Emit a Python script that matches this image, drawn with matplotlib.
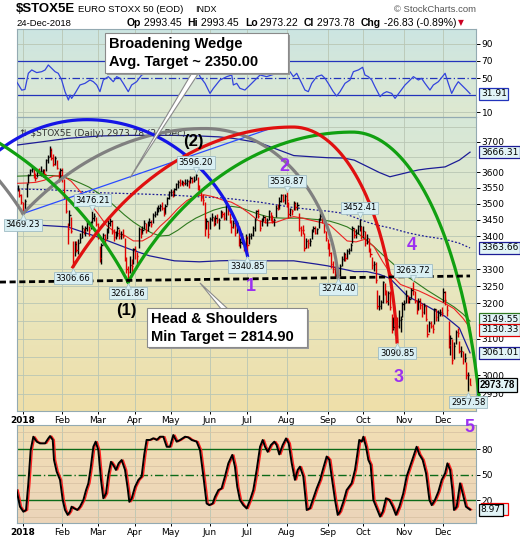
import numpy as np
import pandas as pd
import matplotlib
matplotlib.use("Agg")
import matplotlib.pyplot as plt
from matplotlib.colors import to_rgb
from matplotlib.patches import Rectangle, Polygon
from matplotlib.ticker import FixedLocator, NullLocator
from matplotlib.transforms import offset_copy

# trading days on the chart: 3 days of late 2017, then 2018 up to 24 Dec
holidays = pd.to_datetime(["2018-01-01", "2018-03-30", "2018-04-02", "2018-05-01"])
days = pd.bdate_range("2017-12-27", "2018-12-24")
days = days[~days.isin(holidays)]

# daily bars (Dec17, Jan .. Dec)
closes = [3548, 3529, 3504,
    3478, 3510, 3563, 3593, 3607, 3612, 3590, 3582, 3607, 3601, 3604, 3608, 3596, 3641, 3651, 3672, 3647, 3627, 3647, 3614, 3577, 3609,
    3586, 3523, 3478, 3420, 3466, 3416, 3325, 3375, 3359, 3378, 3393, 3426, 3414, 3426, 3437, 3418, 3438, 3454, 3462, 3438,
    3397, 3334, 3374, 3404, 3392, 3414, 3441, 3446, 3412, 3396, 3400, 3425, 3399, 3405, 3399, 3331, 3300, 3292, 3313, 3311, 3361,
    3359, 3340, 3423, 3408, 3419, 3441, 3419, 3440, 3443, 3437, 3464, 3469, 3485, 3486, 3494, 3487, 3470, 3494, 3518, 3536,
    3537, 3533, 3546, 3563, 3568, 3565, 3568, 3566, 3567, 3573, 3565, 3583, 3573, 3576, 3593, 3555, 3539, 3519, 3511, 3422, 3447, 3406,
    3453, 3458, 3443, 3455, 3448, 3448, 3473, 3467, 3456, 3495, 3476, 3454, 3429, 3441, 3410, 3440, 3376, 3381, 3389, 3362, 3395,
    3374, 3401, 3404, 3425, 3450, 3476, 3463, 3425, 3451, 3460, 3448, 3449, 3477, 3453, 3447, 3450, 3488, 3487, 3510, 3527, 3512, 3525,
    3512, 3468, 3483, 3477, 3503, 3490, 3497, 3426, 3419, 3418, 3363, 3384, 3379, 3386, 3418, 3426, 3410, 3420, 3450, 3462, 3450, 3416, 3393,
    3370, 3347, 3316, 3300, 3290, 3295, 3284, 3311, 3331, 3345, 3332, 3353, 3358, 3372, 3424, 3402, 3409, 3430, 3432, 3399,
    3414, 3380, 3393, 3357, 3345, 3313, 3316, 3267, 3194, 3194, 3203, 3262, 3229, 3208, 3229, 3189, 3130, 3134, 3160, 3137, 3154, 3156, 3197,
    3201, 3223, 3210, 3212, 3240, 3237, 3208, 3180, 3207, 3196, 3175, 3193, 3155, 3112, 3145, 3136, 3128, 3183, 3160, 3175, 3176, 3173,
    3232, 3210, 3180, 3082, 3102, 3040, 3081, 3118, 3116, 3066, 3066, 3045, 3047, 3001, 3001, 2973.78]
highs = [3558, 3548, 3530,
    3506, 3515, 3566, 3596, 3612, 3620, 3610, 3598, 3612, 3613, 3620, 3612, 3612, 3645, 3656, 3687, 3680, 3660, 3652, 3640, 3605, 3615,
    3615, 3580, 3520, 3440, 3480, 3460, 3385, 3385, 3385, 3390, 3410, 3435, 3425, 3430, 3445, 3430, 3445, 3476.21, 3472, 3460,
    3440, 3370, 3380, 3410, 3405, 3425, 3448, 3455, 3450, 3420, 3415, 3432, 3420, 3415, 3420, 3395, 3335, 3310, 3340, 3330, 3365,
    3370, 3350, 3428, 3425, 3430, 3448, 3440, 3445, 3455, 3450, 3470, 3478, 3490, 3495, 3500, 3505, 3490, 3500, 3522, 3540,
    3548, 3545, 3550, 3567, 3575, 3578, 3575, 3572, 3578, 3580, 3575, 3588, 3585, 3590, 3596.20, 3585, 3560, 3545, 3530, 3505, 3455, 3445,
    3460, 3470, 3460, 3465, 3468, 3455, 3480, 3478, 3475, 3500, 3495, 3470, 3450, 3450, 3445, 3445, 3430, 3395, 3410, 3385, 3405,
    3400, 3410, 3410, 3430, 3455, 3480, 3485, 3450, 3455, 3465, 3462, 3455, 3480, 3475, 3465, 3455, 3495, 3500, 3520, 3530, 3530, 3532,
    3536.87, 3505, 3488, 3485, 3508, 3505, 3505, 3470, 3430, 3435, 3410, 3395, 3390, 3395, 3422, 3432, 3430, 3425, 3455, 3470, 3468, 3450, 3415,
    3390, 3380, 3350, 3325, 3310, 3310, 3300, 3315, 3340, 3350, 3348, 3360, 3365, 3380, 3430, 3425, 3420, 3435, 3452.41, 3430,
    3430, 3415, 3405, 3395, 3365, 3335, 3325, 3320, 3240, 3225, 3210, 3265, 3260, 3240, 3235, 3235, 3170, 3160, 3168, 3160, 3180, 3165, 3205,
    3210, 3240, 3225, 3220, 3245, 3263.72, 3235, 3210, 3215, 3215, 3200, 3200, 3195, 3140, 3150, 3150, 3140, 3188, 3185, 3180, 3185, 3190,
    3245, 3235, 3195, 3150, 3110, 3100, 3090, 3125, 3130, 3095, 3080, 3065, 3060, 3035, 3010, 2993.45]
lows = [3540, 3522, 3500,
    3469.23, 3477, 3520, 3566, 3592, 3603, 3582, 3572, 3585, 3595, 3590, 3585, 3590, 3605, 3630, 3650, 3640, 3620, 3625, 3610, 3570, 3580,
    3570, 3515, 3470, 3375, 3430, 3410, 3306.66, 3340, 3350, 3345, 3380, 3395, 3405, 3400, 3415, 3400, 3420, 3440, 3445, 3430,
    3390, 3320, 3315, 3375, 3370, 3390, 3410, 3430, 3405, 3385, 3390, 3400, 3390, 3390, 3395, 3325, 3290, 3261.86, 3290, 3290, 3315,
    3330, 3315, 3365, 3395, 3405, 3420, 3410, 3415, 3430, 3428, 3440, 3458, 3465, 3475, 3478, 3480, 3462, 3468, 3495, 3515,
    3525, 3520, 3525, 3545, 3550, 3555, 3558, 3555, 3560, 3555, 3550, 3565, 3565, 3570, 3575, 3545, 3530, 3510, 3495, 3400, 3420, 3395,
    3420, 3445, 3430, 3435, 3440, 3420, 3455, 3460, 3450, 3450, 3465, 3440, 3410, 3425, 3400, 3410, 3370, 3365, 3375, 3355, 3365,
    3340.85, 3375, 3390, 3400, 3415, 3455, 3455, 3415, 3430, 3445, 3440, 3430, 3450, 3445, 3440, 3430, 3460, 3480, 3485, 3505, 3505, 3500,
    3490, 3455, 3462, 3465, 3480, 3482, 3480, 3415, 3400, 3405, 3355, 3365, 3365, 3370, 3390, 3412, 3405, 3405, 3425, 3450, 3440, 3410, 3385,
    3360, 3340, 3305, 3290, 3278, 3280, 3274.40, 3280, 3310, 3325, 3325, 3330, 3345, 3355, 3380, 3395, 3395, 3405, 3415, 3390,
    3395, 3370, 3375, 3350, 3335, 3300, 3295, 3260, 3185, 3180, 3185, 3200, 3225, 3200, 3195, 3180, 3115, 3125, 3110, 3090.85, 3130, 3120, 3160,
    3180, 3200, 3200, 3200, 3215, 3225, 3200, 3170, 3180, 3185, 3160, 3170, 3150, 3105, 3120, 3130, 3115, 3140, 3150, 3150, 3165, 3165,
    3205, 3195, 3165, 3075, 3055, 3030, 3045, 3085, 3105, 3060, 3050, 3030, 3035, 2990, 2957.58, 2973.22]

# labelled pivots (trading-day index from 2 Jan 2018)
piv_x = [0, 28, 39, 59, 97, 126, 148, 177, 189, 210, 219, 250]
piv_kind = ["low", "low", "high", "low", "high", "low", "high", "low", "high", "low", "high", "low"]

# moving averages, sampled every 5 trading days
ma_x = [-3, 2, 7, 12, 17, 22, 27, 32, 37, 42, 47, 52, 57, 62, 67, 72, 77, 82, 87, 92, 97, 102, 107, 112, 117, 122,
        127, 132, 137, 142, 147, 152, 157, 162, 167, 172, 177, 182, 187, 192, 197, 202, 207, 212, 217, 222, 227, 232,
        237, 242, 247, 251]
ma_fast = [3565, 3566, 3568, 3575, 3588, 3590, 3572, 3540, 3505, 3470, 3432, 3410, 3402, 3385, 3385, 3400, 3430, 3455,
           3485, 3510, 3525, 3528, 3522, 3512, 3505, 3490, 3470, 3448, 3440, 3442, 3452, 3460, 3455, 3448, 3442, 3435,
           3410, 3385, 3382, 3390, 3368, 3322, 3282, 3255, 3245, 3237, 3225, 3212, 3200, 3185, 3158, 3130.33]
ma_slow = [3588, 3589, 3590, 3590, 3590, 3586, 3578, 3566, 3553, 3535, 3515, 3490, 3465, 3443, 3425, 3410, 3400, 3402,
           3418, 3438, 3455, 3468, 3480, 3488, 3492, 3488, 3478, 3468, 3460, 3456, 3455, 3455, 3455, 3452, 3450, 3446,
           3438, 3428, 3412, 3392, 3368, 3343, 3320, 3296, 3274, 3256, 3238, 3222, 3206, 3190, 3170, 3149.55]

# 200-day bands
bb_x = [-3, 10, 25, 43, 60, 71, 85, 99, 110, 118, 133, 152, 165, 171, 180, 186, 193, 200, 206, 216, 222, 227, 237, 245, 251]
bb_up = [3690, 3700, 3712, 3720, 3722, 3722, 3722, 3720, 3717, 3712, 3697, 3655, 3650, 3648, 3647, 3640, 3620, 3600,
         3586, 3600, 3608, 3612, 3618, 3640, 3666.31]
bb_mid = [3547, 3545, 3542, 3535, 3532, 3530, 3527, 3522, 3519, 3515, 3505, 3488, 3480, 3477, 3470, 3458, 3443, 3432,
          3425, 3410, 3403, 3398, 3390, 3378, 3363.66]
bb_low = [3427, 3433, 3428, 3395, 3360, 3340, 3325, 3322, 3325, 3326, 3325, 3325, 3315, 3310, 3300, 3293, 3293, 3285,
          3273, 3220, 3205, 3192, 3163, 3130, 3061.01]

# RSI(14)
rsi_x = [-3.6, -0.7, 1.1, 3.0, 4.9, 7.7, 10.5, 12.4, 14.2, 16.1, 18.0, 19.8, 21.7, 23.6, 25.5, 26.4, 27.3, 29.2, 32.0,
         34.8, 37.6, 39.5, 41.4, 43.2, 45.1, 47.9, 50.7, 52.6, 54.5, 56.3, 59.1, 61.0, 63.8, 66.6, 69.4, 73.2, 77.0,
         80.7, 84.4, 88.2, 91.9, 95.6, 97.5, 99.4, 102.2, 105.0, 106.9, 110.6, 114.4, 117.2, 118.1, 120.0, 121.8,
         124.6, 127.5, 130.3, 133.1, 136.8, 139.6, 142.4, 146.2, 149.9, 151.8, 153.7, 156.5, 158.3, 160.2, 162.1,
         164.9, 167.7, 169.6, 171.4, 174.2, 176.1, 178.0, 180.8, 183.6, 185.5, 188.3, 190.7, 192.0, 193.9, 195.8,
         197.6, 200.5, 202.3, 204.2, 207.0, 208.9, 211.7, 214.5, 216.4, 219.2, 222.0, 223.8, 225.7, 228.5, 230.4,
         233.2, 237.0, 238.8, 240.7, 242.6, 244.4, 247.2, 249.1, 251.0]
rsi_v = [45.8, 36.0, 36.8, 55.6, 59.5, 56.4, 57.5, 59.5, 65.3, 61.4, 57.5, 55.6, 47.8, 34.2, 24.5, 30.3, 26.4, 32.2, 42.0,
         43.9, 47.8, 45.8, 42.0, 34.2, 47.8, 51.7, 45.8, 51.7, 49.7, 43.9, 34.2, 42.0, 45.8, 53.6, 55.6, 58.0, 61.0,
         60.0, 63.0, 62.0, 63.0, 64.0, 62.0, 51.7, 43.9, 32.2, 38.1, 47.8, 51.7, 53.6, 42.0, 43.9, 38.1,
         36.1, 42.0, 47.8, 53.6, 51.7, 53.6, 55.6, 57.5, 57.5, 51.7, 55.6, 43.9, 36.1, 34.2, 43.9,
         51.7, 53.6, 49.7, 43.9, 34.2, 29.1, 34.2, 43.9, 47.8, 57.5, 59.5, 62.6, 53.6, 51.7, 47.8,
         40.0, 28.4, 32.2, 34.2, 32.2, 26.4, 34.2, 42.0, 45.8, 51.7, 47.8, 49.7, 43.9, 36.1, 42.0,
         45.8, 55.6, 43.9, 32.2, 40.0, 45.8, 40.0, 36.1, 31.91]

# Full stochastic %K
sto_x = [-3.6, -1.7, 0.2, 1.7, 3.0, 4.3, 5.8, 7.7, 9.5, 12.4, 14.2, 15.2, 16.7, 17.4, 18.9, 20.8, 22.3, 23.6, 25.1,
         26.4, 27.3, 28.6, 30.5, 32.0, 33.9, 35.4, 36.7, 38.0, 39.5, 40.8, 42.3, 43.8, 45.1, 46.6, 47.9, 49.4, 50.7,
         52.2, 53.7, 55.4, 57.3, 58.8, 59.7, 61.0, 62.9, 64.8, 66.6, 68.1, 69.4, 71.3, 73.2, 75.1, 76.9, 78.8, 80.7,
         82.5, 84.4, 86.3, 88.2, 91.0, 92.8, 94.7, 97.5, 99.4, 101.3, 103.1, 104.6, 106.5, 107.8, 109.7, 111.5, 113.4,
         115.3, 117.5, 119.0, 120.3, 121.8, 123.7, 125.6, 127.5, 129.3, 131.2, 133.1, 134.6, 135.9, 137.4, 139.2,
         141.1, 142.4, 143.9, 145.8, 147.7, 149.2, 150.9, 152.7, 154.2, 155.5, 157.4, 159.3, 161.1, 163.0, 164.9,
         166.8, 168.6, 170.5, 172.0, 173.3, 175.2, 176.7, 178.0, 179.9, 181.7, 184.5, 186.4, 187.7, 188.8, 190.2,
         191.1, 192.6, 193.9, 195.2, 196.7, 198.6, 200.5, 202.0, 203.8, 205.7, 207.6, 209.4, 211.3, 213.5, 215.4,
         217.3, 219.2, 221.0, 222.5, 224.4, 226.3, 228.2, 229.5, 231.3, 233.2, 235.1, 237.0, 238.3, 239.8, 241.1,
         242.0, 243.5, 245.4, 246.9, 248.7, 251.0]
sto_v = [32, 12.5, 6.6, 8.6, 40, 79, 94.8, 89, 87, 87, 92.8, 95.6, 91, 67.6, 53.8, 44, 20.4, 8.6, 2.8,
         6.7, 12.5, 10.6, 8.6, 12.5, 20.4, 32, 40, 57.8, 83, 89, 79, 44, 22.4, 28, 49.6, 65.3, 61.4,
         55.7, 63.5, 67.4, 55.7, 33.9, 18.2, 22, 35.9, 44, 48, 74, 91, 91, 93, 91, 94.8, 94.8, 83,
         83, 96.8, 89, 91, 94.8, 94, 91, 89, 79, 48, 16.3, 14.3, 16.3, 24, 32, 34, 48,
         63.5, 73.4, 59.6, 36, 20.4, 14.3, 10.4, 20.4, 32, 55.7, 83, 91, 83, 77, 85,
         89, 85, 74, 85, 92.8, 87, 63.5, 44, 55.7, 59.6, 48, 8.6, 10.6, 22.4, 34,
         44, 57.8, 71.5, 67.6, 48, 20.4, 2.8, 6.7, 18.4, 32, 40, 55.7, 74, 91, 89,
         94.8, 83, 67.6, 61.7, 20.4, 10.6, 0.8, 6.7, 22.4, 20.4, 12.5, 2.8, 12.5, 28, 48,
         59.6, 71.5, 83, 74, 67.6, 51.8, 20.4, 14.3, 20.4, 30, 44, 51.8, 63.5, 55.7, 32,
         8.6, 12.5, 40, 28, 12.5, 8.97]

W, H = 520, 540
L, R = 17, 476
fig = plt.figure(figsize=(W / 100, H / 100), dpi=100)
fig.patch.set_facecolor("white")


def rect(t, b):
    return [L / W, 1 - b / H, (R - L) / W, (b - t) / H]


def background(t, b, colors):
    bg = fig.add_axes(rect(t, b), zorder=-1)
    stops = np.array([to_rgb(c) for c in colors])
    pos = np.linspace(0, 1, len(stops))
    s = np.linspace(0, 1, 200)
    img = np.stack([np.interp(s, pos, stops[:, k]) for k in range(3)], axis=1)
    bg.imshow(img[:, None, :], aspect="auto", extent=[0, 1, 0, 1])
    bg.axis("off")


background(29, 117, ["#cce5e2", "#dfe9d0"])
background(117, 411, ["#d6e7d8", "#e7e8c4", "#efdfa9"])
background(425, 523, ["#f1deb4", "#ecd5ba"])

x = np.arange(len(days)) - 3
xmin, xmax = (L - 23) / 1.781, (R - 23) / 1.781
month_pos, month_lab = [], []
for m in range(1, 13):
    first = np.where((days.year == 2018) & (days.month == m))[0][0]
    month_pos.append(first - 3)
    month_lab.append("2018" if m == 1 else days[first].strftime("%b"))

grid_c = "#b9c6b4"
spine_c = "#93aab2"
fs = 6.5


def style(ax, ylim):
    ax.set_facecolor("none")
    ax.set_xlim(xmin, xmax)
    ax.set_ylim(*ylim)
    for s in ax.spines.values():
        s.set_color(spine_c)
        s.set_linewidth(0.8)
    ax.yaxis.tick_right()
    ax.tick_params(axis="y", length=3, pad=1, labelsize=fs, width=0.7, colors="black")
    ax.set_xticks(month_pos)
    ax.tick_params(axis="x", length=2, pad=1.5, labelsize=fs, width=0.7)
    for p in month_pos:
        ax.axvline(p, color=grid_c, lw=0.6, zorder=1)


def xlabels(ax):
    ax.set_xticklabels(month_lab)
    ax.get_xticklabels()[0].set_fontweight("bold")


def tag(ax, y, text, edge, bold=False, size=fs, dy=0, dx=3.5, family=None):
    ax.annotate(text, xy=(1, y), xycoords=("axes fraction", "data"), xytext=(dx, dy),
                textcoords="offset points", ha="left", va="center", fontsize=size,
                fontweight="bold" if bold else "normal", annotation_clip=False, zorder=20,
                family=family or "DejaVu Sans",
                bbox=dict(boxstyle="square,pad=0.18", fc="#e2f4f7", ec=edge, lw=0.9))


# ---- RSI panel
ax1 = fig.add_axes(rect(29, 117))
style(ax1, (4.7, 107.2))
ax1.set_xticklabels([])
ax1.tick_params(axis="x", length=0)
ax1.set_yticks([10, 50, 70, 90])
for v in (10, 90):
    ax1.axhline(v, color=grid_c, lw=0.6, zorder=1)
ax1.axhline(70, color="#2233bb", lw=0.9, zorder=2)
ax1.axhline(30, color="#2233bb", lw=0.9, zorder=2)
ax1.axhline(50, color="#2233bb", lw=0.9, ls=(0, (6, 2, 1, 2)), zorder=2)
ax1.plot(rsi_x, rsi_v, color="#3344dd", lw=0.9, zorder=3)
tag(ax1, rsi_v[-1], f"{rsi_v[-1]:.2f}", "#2233bb")

# ---- price panel
ax = fig.add_axes(rect(117, 411))
ax.set_yscale("log")
style(ax, (2905, 3784))
levels = np.arange(2950, 3800, 50)
for v in levels:
    ax.axhline(v, color=grid_c, lw=0.6, zorder=1)
yt = [2950, 3000, 3100, 3200, 3250, 3300, 3400, 3450, 3500, 3550, 3600, 3700]
ax.yaxis.set_major_locator(FixedLocator(yt))
ax.yaxis.set_minor_locator(NullLocator())
ax.set_yticklabels([str(v) for v in yt])
xlabels(ax)

ax.plot(bb_x, bb_up, color="#1c1c96", lw=0.9, zorder=3)
ax.plot(bb_x, bb_low, color="#1c1c96", lw=0.9, zorder=3)
ax.plot(bb_x, bb_mid, color="#1c1c96", lw=0.9, ls=(0, (1.5, 1.5)), zorder=3)
ax.plot(ma_x, ma_slow, color="#2f7a1f", lw=0.8, zorder=3)
ax.plot(ma_x, ma_fast, color="#ee2222", lw=0.8, zorder=3)

c = np.array(closes)
prev = np.r_[c[0], c[:-1]]
cols = np.where(c >= prev, "black", "#e00000")
ax.vlines(x, lows, highs, colors=cols, lw=1.0, zorder=4)
ax.hlines(c, x, x + 0.7, colors=cols, lw=1.0, zorder=4)

ax.text(0.006, 0.945, "\u21c5 $STOX5E (Daily) 2973.78 (24 Dec)", transform=ax.transAxes, fontsize=fs,
        color="#333333", va="center", ha="left", zorder=3)


def arc(peak, color, left=None, yc_left=None, right=None, yc_right=None, x_from=None):
    T = ax.transData
    px, py = T.transform(peak)
    parts = []
    for end, ycv, side in ((left, yc_left, -1), (right, yc_right, 1)):
        if end is None:
            continue
        cy = T.transform((peak[0], ycv))[1]
        ry = py - cy
        ex, ey = T.transform(end)
        te = np.arccos(np.clip((ey - cy) / ry, -1, 1))
        rx = abs(ex - px) / np.sin(te)
        t0 = 0.0
        if x_from is not None and side == 1:
            xf = T.transform((x_from, peak[1]))[0]
            t0 = np.arcsin(np.clip((xf - px) / rx, 0, 1))
        t = np.linspace(t0, te, 90)
        pts = T.inverted().transform(np.column_stack([px + side * rx * np.sin(t), cy + ry * np.cos(t)]))
        parts.append(pts[::-1] if side == -1 else pts)
    pts = np.vstack(parts)
    ax.plot(pts[:, 0], pts[:, 1], color=color, lw=2.3, clip_on=False, zorder=6)


def pv(i):
    k = piv_x.index(i)
    return (i, lows[i + 3] if piv_kind[k] == "low" else highs[i + 3])


arc((-144, 3944), "#808080", right=pv(0), yc_right=2998, x_from=-13)
arc((102, 3745), "#808080", left=pv(0), yc_left=2622, right=pv(177), yc_right=3225)
arc((36, 3775), "#1515e6", left=(-13, 3674), yc_left=3210, right=pv(126), yc_right=3210)
arc((-121, 3884), "#11a011", right=pv(59), yc_right=2802, x_from=-13)
arc((185, 3733), "#11a011", left=pv(59), yc_left=2691, right=(256.5, 2921), yc_right=2691)
arc((151.6, 3750), "#e01010", left=pv(28), yc_left=2617, right=pv(210), yc_right=3022)

# neckline and wedge line
ax.plot([-13, 251], [3262, 3280], color="black", lw=2, ls=(0, (2.2, 1.3)), clip_on=False, zorder=7)
ax.plot([0, 137], [pv(0)[1], 3741], color="#2a4bff", lw=0.9, zorder=5)

for i, kind in zip(piv_x, piv_kind):
    xi, v = pv(i)
    sgn = -1 if kind == "low" else 1
    ax.annotate(f"{v:.2f}", xy=(xi, v), xytext=(0, 8 * sgn), textcoords="offset points", ha="center",
                va="center", fontsize=6, annotation_clip=False, zorder=8,
                bbox=dict(boxstyle="square,pad=0.2", fc="#d9eff3", ec="#9fbcc4", lw=0.6))
    tr = offset_copy(ax.transData, fig=fig, x=0, y=2.6 * sgn, units="points")
    ax.plot([xi], [v], marker="^" if kind == "low" else "v", ms=4.5, mfc="#d9eff3", mec="#9fbcc4",
            mew=0.5, transform=tr, zorder=8, clip_on=False)

purple = "#9b30f0"
for s, xi, v in (("2", 146.5, 3618), ("1", 128, 3250), ("4", 218.4, 3370), ("3", 211, 2994)):
    ax.text(xi, v, s, color=purple, fontsize=13, fontweight="bold", family="Liberation Sans",
            ha="center", va="center", zorder=9)
ax.text(95.5, 3703, "(2)", fontsize=12, fontweight="bold", family="Liberation Sans", ha="center",
        va="center", zorder=9)
ax.text(57.8, 3181, "(1)", fontsize=12, fontweight="bold", family="Liberation Sans", ha="center",
        va="center", zorder=9)

tag(ax, bb_up[-1], f"{bb_up[-1]:.2f}", "#1c1c96")
tag(ax, bb_mid[-1], f"{bb_mid[-1]:.2f}", "#1c1c96")
tag(ax, ma_slow[-1], f"{ma_slow[-1]:.2f}", "#2f7a1f", dy=1.5)
tag(ax, ma_fast[-1], f"{ma_fast[-1]:.2f}", "#e00000", dy=-1.5)
tag(ax, bb_low[-1], f"{bb_low[-1]:.2f}", "#1c1c96")
tag(ax, closes[-1], f"{closes[-1]:.2f}", "black", bold=True, size=7, dx=2.5, family="Liberation Sans")

# ---- stochastic panel
ax3 = fig.add_axes(rect(425, 523))
style(ax3, (-6.7, 108.6))
xlabels(ax3)
ax3.set_yticks([20, 50, 80])
for v in (0, 10, 30, 40, 60, 70, 90, 100):
    ax3.axhline(v, color="#d9c3a4", lw=0.6, zorder=1)
ax3.axhline(80, color="#0c6a18", lw=1.0, zorder=2)
ax3.axhline(20, color="#0c6a18", lw=1.0, zorder=2)
ax3.axhline(50, color="#0c6a18", lw=1.0, ls=(0, (6, 2, 1, 2)), zorder=2)
ax3.plot(np.array(sto_x) + 0.9, sto_v, color="#ff2020", lw=1.0, zorder=3)
ax3.plot(sto_x, sto_v, color="black", lw=1.4, zorder=4)
ax3.annotate("        ", xy=(1, sto_v[-1]), xycoords=("axes fraction", "data"), xytext=(5, 0.5),
             textcoords="offset points", ha="left", va="center", fontsize=fs, annotation_clip=False,
             zorder=19, bbox=dict(boxstyle="square,pad=0.18", fc="#e2f4f7", ec="#ff0000", lw=0.9))
tag(ax3, sto_v[-1], f"{sto_v[-1]:.2f}", "black")


# ---- header and call-out boxes (figure pixels)
def fx(px):
    return px / W


def fy(py):
    return 1 - py / H


fig.text(fx(16), fy(9.5), "$STOX5E", fontsize=9.5, fontweight="bold", family="Liberation Sans", va="center")
fig.text(fx(78), fy(9.5), "EURO STOXX 50 (EOD)", fontsize=6.8, family="Liberation Sans", va="center")
fig.text(fx(195), fy(9.5), "INDX", fontsize=6.5, family="Liberation Sans", va="center")
fig.text(fx(476), fy(9.5), "\u00a9 StockCharts.com", fontsize=6.8, family="Liberation Sans", color="#555555",
         va="center", ha="right")
fig.text(fx(16), fy(23), "24-Dec-2018", fontsize=6.8, family="Liberation Sans", va="center")

fig.canvas.draw()
rend = fig.canvas.get_renderer()
pieces = [("Op", True), (" 2993.45  ", False), ("Hi", True), (" 2993.45  ", False), ("Lo", True),
          (" 2973.22  ", False), ("Cl", True), (" 2973.78  ", False), ("Chg", True), (" -26.83 (-0.89%)", False)]
xc = 127
for s, b in pieces:
    t = fig.text(fx(xc), fy(23), s, fontsize=7.5, fontweight="bold" if b else "normal",
                 family="Liberation Sans", va="center")
    xc += t.get_window_extent(renderer=rend).width
fig.text(fx(xc + 2), fy(23), "\u25bc", fontsize=5.5, color="#cc0022", va="center")


def callout(l, t, r, b, lines, tip, base):
    fig.patches.append(Polygon([(fx(base[0]), fy(base[1])), (fx(base[0] + 7), fy(base[1])),
                                (fx(tip[0]), fy(tip[1]))], closed=True, transform=fig.transFigure,
                               fc="white", ec="#8a8a8a", lw=0.8, zorder=10))
    fig.patches.append(Rectangle((fx(l + 2), fy(b + 2)), (r - l) / W, (b - t) / H, transform=fig.transFigure,
                                 fc="#9a9a9a", ec="none", zorder=11))
    fig.patches.append(Rectangle((fx(l), fy(b)), (r - l) / W, (b - t) / H, transform=fig.transFigure,
                                 fc="white", ec="#8a8a8a", lw=0.8, zorder=12))
    for k, s in enumerate(lines):
        fig.text(fx(l + 4), fy(t + 11 + 18 * k), s, fontsize=10.5, fontweight="bold",
                 family="Liberation Sans", va="center", zorder=13)


callout(105, 33, 288, 73, ["Broadening Wedge", "Avg. Target ~ 2350.00"], (130, 178), (193, 71))
callout(147, 308, 307, 347, ["Head & Shoulders", "Min Target = 2814.90"], (200, 283), (222, 310))

fig.text(fx(469), fy(428), "5", color=purple, fontsize=13, fontweight="bold", family="Liberation Sans",
         ha="center", va="center")

fig.savefig("out.png", dpi=100)
